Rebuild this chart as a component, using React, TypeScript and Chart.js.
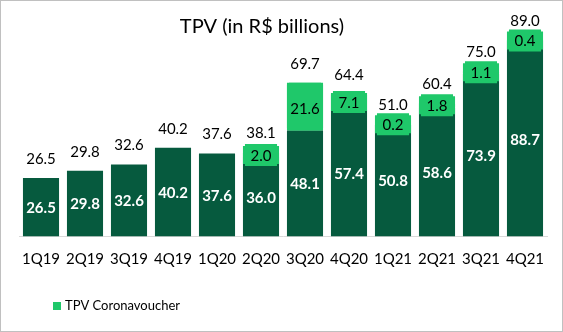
import React, { useEffect, useRef } from "react";
import { Chart, registerables } from "chart.js";

Chart.register(...registerables);

const categories = ["1Q19", "2Q19", "3Q19", "4Q19", "1Q20", "2Q20", "3Q20", "4Q20", "1Q21", "2Q21", "3Q21", "4Q21"];
const tpvBase = [26.5, 29.8, 32.6, 40.2, 37.6, 36.0, 48.1, 57.4, 50.8, 58.6, 73.9, 88.7];
const tpvCorona: (number | null)[] = [null, null, null, null, null, 2.0, 21.6, 7.1, 0.2, 1.8, 1.1, 0.4];
const totals = [26.5, 29.8, 32.6, 40.2, 37.6, 38.1, 69.7, 64.4, 51.0, 60.4, 75.0, 89.0];
const titleText = "TPV (in R$ billions)";
const legendText = "TPV Coronavoucher";

const DARK = "#065a3e";
const BRIGHT = "#1fc86a";
const FONT = "Lato, 'Open Sans', sans-serif";

const labelPlugin = {
  id: "labelPlugin",
  beforeDraw(chart: any) {
    const ctx = chart.ctx;
    ctx.save();
    ctx.fillStyle = "#ffffff";
    ctx.fillRect(0, 0, chart.width, chart.height);
    ctx.restore();
  },
  afterDatasetsDraw(chart: any) {
    const ctx = chart.ctx;
    const m0 = chart.getDatasetMeta(0);
    const m1 = chart.getDatasetMeta(1);
    const yScale = chart.scales.y;
    ctx.save();
    ctx.textAlign = "center";
    ctx.textBaseline = "middle";
    categories.forEach((_, i) => {
      const b0 = m0.data[i];
      ctx.fillStyle = "#ffffff";
      ctx.font = `bold 15px ${FONT}`;
      ctx.fillText(tpvBase[i].toFixed(1), b0.x, (b0.y + b0.base) / 2 + 1);
      const cv = tpvCorona[i];
      if (cv != null) {
        const b1 = m1.data[i];
        const segTop = b1.y;
        const segBot = b1.base;
        const h = Math.max(segBot - segTop, 22);
        const cy = (segTop + segBot) / 2;
        const w = b1.width;
        const x0 = b1.x - w / 2;
        const x1 = b1.x + w / 2;
        const y0 = cy - h / 2;
        const y1 = cy + h / 2;
        const c = 2;
        ctx.fillStyle = BRIGHT;
        ctx.beginPath();
        ctx.moveTo(x0 + c, y0);
        ctx.lineTo(x1 - c, y0);
        ctx.lineTo(x1 - c, y0 + c);
        ctx.lineTo(x1, y0 + c);
        ctx.lineTo(x1, y1 - c);
        ctx.lineTo(x1 - c, y1 - c);
        ctx.lineTo(x1 - c, y1);
        ctx.lineTo(x0 + c, y1);
        ctx.lineTo(x0 + c, y1 - c);
        ctx.lineTo(x0, y1 - c);
        ctx.lineTo(x0, y0 + c);
        ctx.lineTo(x0 + c, y0 + c);
        ctx.closePath();
        ctx.fill();
        ctx.fillStyle = "#000000";
        ctx.font = `15px ${FONT}`;
        ctx.fillText(cv.toFixed(1), b1.x, cy + (h > 30 ? 3 : 1));
      }
      ctx.fillStyle = "#000000";
      ctx.font = `15px ${FONT}`;
      ctx.fillText(totals[i].toFixed(1), b0.x, yScale.getPixelForValue(totals[i]) - 19);
    });
    ctx.font = `20px ${FONT}`;
    ctx.fillStyle = "#000000";
    ctx.fillText(titleText, 262, 27);
    ctx.fillStyle = BRIGHT;
    ctx.fillRect(53, 302, 8, 8);
    ctx.fillStyle = "#000000";
    ctx.textAlign = "left";
    ctx.font = `13px ${FONT}`;
    ctx.fillText(legendText, 65, 306);
    ctx.strokeStyle = "#c0c0c0";
    ctx.lineWidth = 1;
    ctx.strokeRect(0.5, 0.5, chart.width - 1, chart.height - 1);
    ctx.restore();
  },
};

export default function App() {
  const ref = useRef<HTMLCanvasElement>(null);
  useEffect(() => {
    if (!ref.current) return;
    const chart = new Chart(ref.current, {
      type: "bar",
      data: {
        labels: categories,
        datasets: [
          { label: "TPV", data: tpvBase, backgroundColor: DARK, borderWidth: 0 },
          { label: legendText, data: tpvCorona, backgroundColor: BRIGHT, borderWidth: 0 },
        ],
      },
      options: {
        responsive: false,
        animation: false,
        datasets: { bar: { barPercentage: 0.82, categoryPercentage: 1 } },
        layout: { padding: { left: 19, right: 16, top: 16, bottom: 55.5 } },
        plugins: { legend: { display: false }, title: { display: false }, tooltip: { enabled: false } },
        scales: {
          x: {
            stacked: true,
            grid: { display: false, drawTicks: false },
            border: { display: true, color: "#d9d9d9", width: 1 },
            ticks: { color: "#000000", font: { family: FONT, size: 15 }, padding: 14, maxRotation: 0 },
            afterFit: (s: any) => {
              s.height = 40;
            },
          },
          y: { stacked: true, display: false, min: 0, max: 100 },
        },
      },
      plugins: [labelPlugin],
    });
    return () => chart.destroy();
  }, []);
  return (
    <div style={{ position: "absolute", left: 0, top: 0, width: 563, height: 332 }}>
      <canvas ref={ref} width={563} height={332} style={{ display: "block" }} />
    </div>
  );
}
